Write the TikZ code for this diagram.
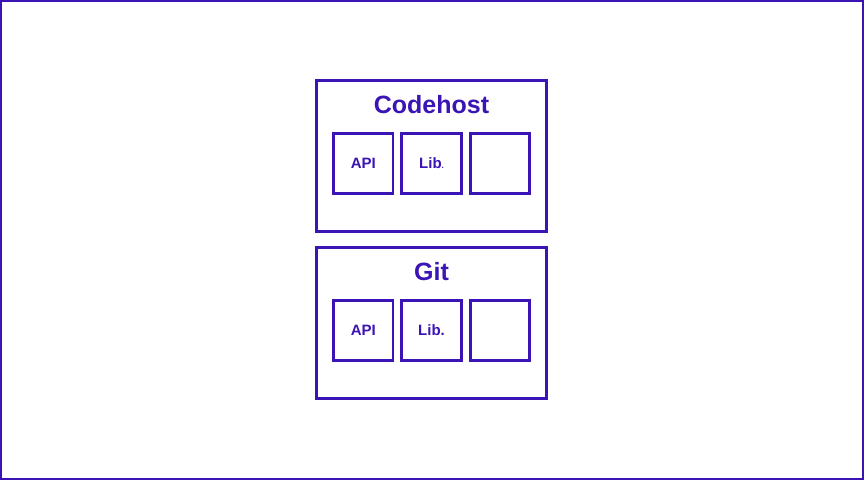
\documentclass[tikz,border=0pt]{standalone}
\usepackage{fontspec}
\setmainfont{Liberation Sans}
\usetikzlibrary{positioning}
\definecolor{hostblue}{RGB}{58,20,180}

\begin{document}
\begin{tikzpicture}[x=1pt,y=-1pt,
	layer/.style={draw=hostblue, line width=2.8pt, minimum width=230pt, minimum height=151pt, inner sep=0pt},
	part/.style={draw=hostblue, line width=2.8pt, minimum width=59.5pt, minimum height=60pt, inner sep=0pt, text=hostblue, font=\bfseries\fontsize{15}{15}\selectfont},
	title/.style={text=hostblue, font=\bfseries\fontsize{25}{25}\selectfont}]

	% page frame
	\draw[hostblue, line width=2pt, fill=white] (1,1) rectangle (863,479);
	\useasboundingbox (0,0) rectangle (864,480);

	\def\gap{6}				% gap between the small boxes

	% the two layers
	\node[layer] (codehost) at (431.5,156) {};
	\node[layer] (git) at (431.5,323) {};

	\foreach \lay/\name/\libtext in {codehost/Codehost/{Lib{\fontsize{8}{8}\selectfont.}}, git/Git/{Lib.}}{
		\node[title] (\lay-title) at ([yshift=-25pt]\lay.north) {\name};
		\node[part, anchor=north west] (\lay-api) at ([xshift=17pt,yshift=-53pt]\lay.north west) {API};
		\node[part, right=\gap pt of \lay-api] (\lay-lib) {\libtext};
		\node[part, right=\gap pt of \lay-lib] (\lay-empty) {};
	}

\end{tikzpicture}
\end{document}
